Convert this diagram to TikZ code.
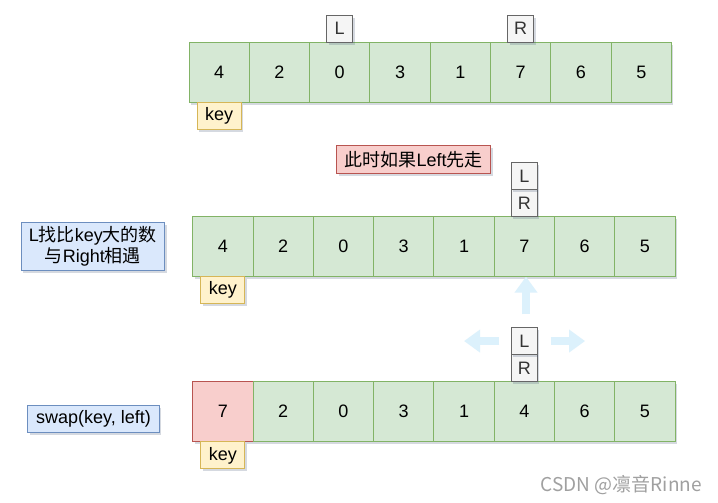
\documentclass[tikz,border=0pt]{standalone}
\usepackage{fontspec}
\setmainfont{Liberation Sans}
\newfontfamily\cjk{Noto Sans CJK SC}
\usepackage{tikz}
\usetikzlibrary{positioning, shadows, arrows.meta}

\definecolor{greenfill}{HTML}{D5E8D4}
\definecolor{greenline}{HTML}{82B366}
\definecolor{redfill}{HTML}{F8CECC}
\definecolor{redline}{HTML}{B85450}
\definecolor{yellowfill}{HTML}{FFF2CC}
\definecolor{yellowline}{HTML}{D6B656}
\definecolor{bluefill}{HTML}{DAE8FC}
\definecolor{blueline}{HTML}{6C8EBF}
\definecolor{grayfill}{HTML}{F5F5F5}
\definecolor{grayline}{HTML}{666666}
\definecolor{graytext}{HTML}{333333}
\definecolor{arrowblue}{HTML}{DCF1FC}
\definecolor{marktext}{HTML}{A0A0A0}

\begin{document}
\begin{tikzpicture}[
        x=1pt, y=-1pt,
        font=\fontsize{18}{21}\selectfont,
        shade/.style={drop shadow={shadow xshift=2pt, shadow yshift=-2.5pt, opacity=0.22, fill=blueline!60!black}},
        cell/.style={rectangle, draw=greenline, fill=greenfill, line width=1pt, minimum width=60.3pt, minimum height=60.3pt, inner sep=0pt, outer sep=0pt, shade},
        hotcell/.style={cell, draw=redline, fill=redfill},
        ptr/.style={rectangle, draw=grayline, fill=grayfill, text=graytext, line width=1pt, minimum width=26pt, minimum height=27pt, inner sep=0pt, outer sep=0pt, shade},
        keybox/.style={rectangle, draw=yellowline, fill=yellowfill, line width=1pt, minimum width=44pt, minimum height=27pt, inner sep=0pt, outer sep=0pt, shade},
        note/.style={rectangle, draw=blueline, fill=bluefill, line width=1pt, inner sep=0pt, align=center, shade},
        bigarrow/.style={line width=7.3pt, draw=arrowblue, -{Triangle[width=22pt, length=16pt]}},
    ]
        \useasboundingbox[fill=white] (0,0) rectangle (718,503);

        % Row 1: start
        \node[cell] (a1) at (219.15,72.3) {4};
        \foreach \v [count=\i from 2] in {2,0,3,1,7,6,5} {
            \pgfmathtruncatemacro\prev{\i-1}
            \node[cell, right=0pt of a\prev] (a\i) {\v};
        }
        \node[ptr, above=0pt of a3] (l1) {L};
        \node[ptr, above=0pt of a6] (r1) {R};
        \node[keybox, below=0pt of a1] (k1) {key};

        % Row 2: Left moves first
        \node[rectangle, draw=redline, fill=redfill, line width=1pt, minimum width=154pt, minimum height=27.6pt, inner sep=0pt, shade] (hint) at (413.7,159.5) {{\cjk 此时如果}Left{\cjk 先走}};
        \node[cell] (b1) at (222.85,246.5) {4};
        \foreach \v [count=\i from 2] in {2,0,3,1,7,6,5} {
            \pgfmathtruncatemacro\prev{\i-1}
            \node[cell, right=0pt of b\prev] (b\i) {\v};
        }
        \node[ptr, above=0pt of b6] (r2) {R};
        \node[ptr, above=0pt of r2] (l2) {L};
        \node[keybox, below=0pt of b1] (k2) {key};
        \node[note, minimum width=143.3pt, minimum height=48.4pt, left=27.7pt of b1] (meet) {L{\cjk 找比}key{\cjk 大的数}\\{\cjk 与}Right{\cjk 相遇}};

        % Row 3: after swap
        \node[hotcell] (c1) at (222.85,411.7) {7};
        \foreach \v [count=\i from 2] in {2,0,3,1,4,6,5} {
            \pgfmathtruncatemacro\prev{\i-1}
            \node[cell, right=0pt of c\prev] (c\i) {\v};
        }
        \node[ptr, above=0pt of c6] (r3) {R};
        \node[ptr, above=0pt of r3] (l3) {L};
        \node[keybox, below=0pt of c1] (k3) {key};
        \node[note, minimum width=131.6pt, minimum height=27.4pt] (swap) at (93.5,419) {swap(key, left)};

        % Arrows
        \coordinate (upTail) at (526,314);
        \draw[bigarrow] (upTail) -- (upTail |- b6.south);
        \draw[bigarrow] ([xshift=-12.3pt]l3.west) -- ([xshift=-47.3pt]l3.west);
        \draw[bigarrow] ([xshift=13.4pt]l3.east) -- ([xshift=47.7pt]l3.east);

        % Watermark
        \node[font=\cjk\fontsize{19}{21}\selectfont, text=marktext] (mark) at (621.3,485) {CSDN @凛音Rinne};
    \end{tikzpicture}
\end{document}
